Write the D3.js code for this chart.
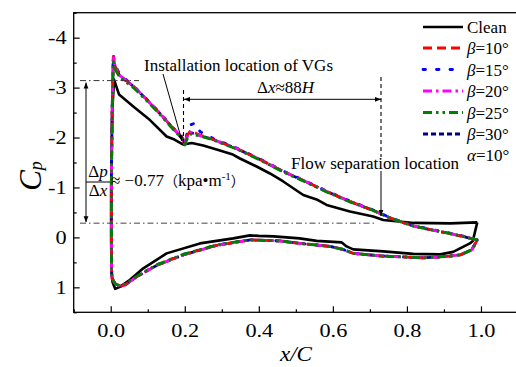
<!DOCTYPE html>
<html><head><meta charset="utf-8">
<script src="https://cdn.jsdelivr.net/npm/d3@7"></script>
<style>body{margin:0;background:#fff}svg{display:block}text{font-family:"Liberation Serif","Times New Roman",Tinos,Times,"DejaVu Serif",serif;fill:#000}</style>
</head><body><svg id="c" width="516" height="367"></svg>
<script>
// ---------- data ----------
const xTicks = [0, 0.2, 0.4, 0.6, 0.8, 1.0];
const xTickLabels = ["0.0", "0.2", "0.4", "0.6", "0.8", "1.0"];
const xMinor = [-0.1, 0.1, 0.3, 0.5, 0.7, 0.9, 1.1];
const yTicks = [-4, -3, -2, -1, 0, 1];
const yTickLabels = ["-4", "-3", "-2", "-1", "0", "1"];
const yMinor = [-4.5, -3.5, -2.5, -1.5, -0.5, 0.5, 1.5];

// Clean airfoil (closed loop: upper surface TE->LE, lower surface LE->TE)
const cleanX = [0.99, 0.917, 0.82, 0.736, 0.709, 0.646, 0.583, 0.556, 0.52, 0.466, 0.43, 0.394, 0.349, 0.33, 0.286, 0.25, 0.219, 0.196, 0.172, 0.151, 0.106, 0.061, 0.0225, 0.009,
  0.004, 0.001, 0.001, 0.002, 0.005, 0.012, 0.025, 0.052, 0.088, 0.151, 0.241, 0.331, 0.376, 0.40, 0.44, 0.51, 0.556, 0.624, 0.637, 0.655, 0.736, 0.817, 0.89, 0.925, 0.97, 0.978, 0.99];
const cleanCp = [-0.30, -0.28, -0.29, -0.35, -0.42, -0.52, -0.65, -0.76, -0.85, -1.12, -1.28, -1.42, -1.58, -1.66, -1.76, -1.84, -1.89, -1.86, -1.96, -2.02, -2.35, -2.62, -2.86, -3.16,
  -2.5, -1.0, 0.0, 0.6, 0.9, 1.03, 0.99, 0.85, 0.62, 0.32, 0.12, 0.02, -0.04, -0.03, -0.02, 0.02, 0.07, 0.10, 0.18, 0.24, 0.28, 0.33, 0.34, 0.29, 0.12, 0.07, -0.30];

// VG cases (shared chord positions)
const vgX = [0.99, 0.95, 0.908, 0.86, 0.817, 0.78, 0.745, 0.709, 0.646, 0.583, 0.52, 0.466, 0.403, 0.34, 0.277, 0.241, 0.228, 0.214, 0.205, 0.2, 0.192, 0.169, 0.133, 0.097, 0.061, 0.025, 0.012, 0.007,
  0.004, 0.002, 0.002, 0.002, 0.003, 0.012, 0.025, 0.039, 0.07, 0.124, 0.196, 0.286, 0.376, 0.457, 0.511, 0.592, 0.627, 0.655, 0.727, 0.845, 0.908, 0.944, 0.975, 0.99];
const cpB10 = [0.05, -0.02, -0.09, -0.16, -0.23, -0.32, -0.42, -0.54, -0.72, -0.92, -1.14, -1.32, -1.56, -1.78, -1.96, -2.05, -2.09, -2.12, -2.02, -1.86, -2.00, -2.18, -2.48, -2.76, -3.03, -3.24, -3.42, -3.62,
  -2.6, -1.2, 0.0, 0.6, 0.82, 0.93, 0.98, 0.95, 0.79, 0.56, 0.35, 0.16, 0.05, 0.07, 0.12, 0.18, 0.24, 0.32, 0.37, 0.41, 0.38, 0.35, 0.25, 0.05];
const cpB15 = [0.05, -0.03, -0.10, -0.17, -0.24, -0.33, -0.43, -0.55, -0.73, -0.93, -1.15, -1.33, -1.57, -1.79, -1.98, -2.12, -2.29, -2.25, -2.05, -1.88, -2.01, -2.19, -2.49, -2.77, -3.04, -3.26, -3.45, -3.66,
  -2.6, -1.2, 0.0, 0.6, 0.82, 0.93, 0.97, 0.94, 0.78, 0.55, 0.34, 0.15, 0.05, 0.07, 0.12, 0.18, 0.24, 0.32, 0.37, 0.41, 0.38, 0.35, 0.25, 0.05];
const cpB20 = [0.05, -0.02, -0.09, -0.16, -0.23, -0.32, -0.42, -0.54, -0.72, -0.92, -1.14, -1.32, -1.56, -1.78, -1.96, -2.04, -2.08, -2.10, -2.00, -1.85, -2.00, -2.18, -2.48, -2.76, -3.03, -3.24, -3.42, -3.63,
  -2.6, -1.2, 0.0, 0.6, 0.82, 0.93, 0.98, 0.95, 0.79, 0.56, 0.35, 0.16, 0.05, 0.07, 0.12, 0.18, 0.24, 0.32, 0.37, 0.41, 0.38, 0.35, 0.25, 0.05];
const cpB25 = [0.05, -0.02, -0.09, -0.16, -0.23, -0.32, -0.42, -0.54, -0.71, -0.91, -1.13, -1.31, -1.55, -1.77, -1.95, -2.03, -2.05, -2.07, -1.95, -1.85, -1.98, -2.16, -2.46, -2.74, -3.00, -3.20, -3.36, -3.52,
  -2.6, -1.2, 0.0, 0.6, 0.82, 0.93, 0.97, 0.94, 0.78, 0.55, 0.34, 0.15, 0.05, 0.07, 0.12, 0.18, 0.24, 0.32, 0.37, 0.41, 0.38, 0.35, 0.25, 0.05];
const cpB30 = [0.05, -0.02, -0.09, -0.16, -0.23, -0.32, -0.42, -0.54, -0.72, -0.92, -1.14, -1.32, -1.56, -1.78, -1.96, -2.04, -2.08, -2.10, -2.00, -1.86, -2.00, -2.18, -2.48, -2.76, -3.03, -3.23, -3.40, -3.58,
  -2.6, -1.2, 0.0, 0.6, 0.82, 0.93, 0.98, 0.95, 0.79, 0.56, 0.35, 0.16, 0.05, 0.07, 0.12, 0.18, 0.24, 0.32, 0.37, 0.41, 0.38, 0.35, 0.25, 0.05];
const betaLabels = ["10", "15", "20", "25", "30"];

// ---------- setup ----------
const FONT = '"Liberation Serif","Times New Roman",Tinos,Times,"DejaVu Serif",serif';
const svg = d3.select("#c");
const x = d3.scaleLinear().domain([-0.1, 1.1]).range([73.7, 518.0]);
const y = d3.scaleLinear().domain([-4.5, 1.5]).range([12.7, 312.3]);
const SX = 1.24; // horizontal stretch of the axis numerals

const seriesStyles = [
  {cp: cpB30, color: "#000080", dash: "5,3"},
  {cp: cpB15, color: "#0000ff", dash: "2.5,11"},
  {cp: cpB10, color: "#ff0000", dash: "9,5"},
  {cp: cpB20, color: "#ff00ff", dash: "9,4,2.5,4"},
  {cp: cpB25, color: "#008000", dash: "9,4,2.5,4,2.5,4"}
];
const legendOrder = [
  {label: betaLabels[0], color: "#ff0000", dash: "9,5"},
  {label: betaLabels[1], color: "#0000ff", dash: "2.5,11"},
  {label: betaLabels[2], color: "#ff00ff", dash: "9,4,2.5,4"},
  {label: betaLabels[3], color: "#008000", dash: "9,4,2.5,4,2.5,4"},
  {label: betaLabels[4], color: "#000080", dash: "5,3"}
];

// defs: arrow marker
const defs = svg.append("defs");
defs.append("marker").attr("id", "ah").attr("viewBox", "0 0 10 10").attr("refX", 10).attr("refY", 5)
  .attr("markerWidth", 7).attr("markerHeight", 6).attr("markerUnits", "userSpaceOnUse").attr("orient", "auto-start-reverse")
  .append("path").attr("d", "M0,1 L10,5 L0,9 Z").attr("fill", "#000");

// frame
svg.append("rect").attr("x", x(-0.1)).attr("y", y(-4.5)).attr("width", x(1.1) - x(-0.1)).attr("height", y(1.5) - y(-4.5))
  .attr("fill", "none").attr("stroke", "#000").attr("stroke-width", 1.3);

// axes
const xAxis = svg.append("g").attr("transform", `translate(0,${y(1.5)})`)
  .call(d3.axisBottom(x).tickValues(xTicks).tickSize(-6).tickSizeOuter(0).tickPadding(12).tickFormat((d, i) => xTickLabels[i]));
const xAxisMinor = svg.append("g").attr("transform", `translate(0,${y(1.5)})`)
  .call(d3.axisBottom(x).tickValues(xMinor).tickSize(-3).tickSizeOuter(0).tickFormat(""));
const yAxis = svg.append("g").attr("transform", `translate(${x(-0.1)},0)`)
  .call(d3.axisLeft(y).tickValues(yTicks).tickSize(-6).tickSizeOuter(0).tickPadding(7).tickFormat((d, i) => yTickLabels[i]));
const yAxisMinor = svg.append("g").attr("transform", `translate(${x(-0.1)},0)`)
  .call(d3.axisLeft(y).tickValues(yMinor).tickSize(-3).tickSizeOuter(0).tickFormat(""));
[xAxis, xAxisMinor, yAxis, yAxisMinor].forEach(g => {
  g.attr("font-family", null);
  g.select(".domain").remove();
  g.selectAll("line").attr("stroke", "#000").attr("stroke-width", 1.2);
  g.selectAll("text").style("font-family", FONT).attr("font-size", 18).attr("fill", "#000");
});
xAxis.selectAll("text").attr("transform", `scale(${SX},1)`);
yAxis.selectAll("text").attr("dy", "0.34em").attr("x", -7 / SX).attr("transform", `scale(${SX},1)`);

// axis titles
svg.append("text").attr("x", 296 / 1.1).attr("y", 361).attr("transform", "scale(1.1,1)").attr("text-anchor", "middle").attr("font-size", 21)
  .attr("font-style", "italic").text("x/C");
const yl = svg.append("text").attr("transform", "translate(41,176) rotate(-90)").attr("text-anchor", "middle").attr("font-size", 31);
yl.append("tspan").attr("font-style", "italic").text("C");
yl.append("tspan").attr("font-style", "italic").attr("font-size", 18).attr("dy", 1).text("p");

// curves
const line = d3.line().x(d => x(d[0])).y(d => y(d[1]));
svg.append("path").datum(cleanX.map((v, i) => [v, cleanCp[i]])).attr("d", line)
  .attr("fill", "none").attr("stroke", "#000").attr("stroke-width", 2.6).attr("stroke-linejoin", "round");
seriesStyles.forEach(s => {
  svg.append("path").datum(vgX.map((v, i) => [v, s.cp[i]])).attr("d", line)
    .attr("fill", "none").attr("stroke", s.color).attr("stroke-width", 2.8).attr("stroke-dasharray", s.dash)
    .attr("stroke-linecap", s.dash === "2.5,11" ? "round" : "butt").attr("stroke-linejoin", "round");
});

// annotations
const ann = svg.append("g").attr("stroke", "#000").attr("fill", "none");
ann.append("line").attr("x1", 80).attr("x2", 139).attr("y1", y(-3.14)).attr("y2", y(-3.14))
  .attr("stroke", "#333").attr("stroke-width", 1).attr("stroke-dasharray", "6,3,1.5,3");
ann.append("line").attr("x1", 80).attr("x2", 377).attr("y1", y(-0.285)).attr("y2", y(-0.285))
  .attr("stroke", "#444").attr("stroke-width", 1).attr("stroke-dasharray", "6,3,1.5,3");
ann.append("line").attr("x1", 86).attr("x2", 86).attr("y1", y(-3.14) + 2).attr("y2", y(-0.285) - 1)
  .attr("stroke-width", 1).attr("marker-start", "url(#ah)").attr("marker-end", "url(#ah)");
ann.append("line").attr("x1", 86).attr("x2", 110).attr("y1", 182).attr("y2", 182).attr("stroke-width", 1);
ann.append("line").attr("x1", 163).attr("y1", 74).attr("x2", 182).attr("y2", 141).attr("stroke-width", 1).attr("marker-end", "url(#ah)");
ann.append("line").attr("x1", 183.5).attr("x2", 183.5).attr("y1", 90).attr("y2", 145).attr("stroke-width", 1.1).attr("stroke-dasharray", "4,3");
ann.append("line").attr("x1", 184).attr("x2", 381).attr("y1", 99.3).attr("y2", 99.3).attr("stroke-width", 1)
  .attr("marker-start", "url(#ah)").attr("marker-end", "url(#ah)");
ann.append("line").attr("x1", 381).attr("x2", 381).attr("y1", 77).attr("y2", 157).attr("stroke-width", 1.1).attr("stroke-dasharray", "4,3");
ann.append("line").attr("x1", 381).attr("x2", 381).attr("y1", 171).attr("y2", 216).attr("stroke-width", 1).attr("marker-end", "url(#ah)");

// annotation texts
svg.append("text").attr("x", 144).attr("y", 70.5).attr("font-size", 17).text("Installation location of VGs");
const dx = svg.append("text").attr("x", 257).attr("y", 93).attr("font-size", 17);
dx.append("tspan").text("Δ"); dx.append("tspan").attr("font-style", "italic").text("x");
dx.append("tspan").text("≈88"); dx.append("tspan").attr("font-style", "italic").text("H");
svg.append("text").attr("x", 291).attr("y", 168.5).attr("font-size", 17).text("Flow separation location");
const fp = svg.append("text").attr("x", 98).attr("y", 177).attr("font-size", 17).attr("text-anchor", "middle");
fp.append("tspan").text("Δ"); fp.append("tspan").attr("font-style", "italic").text("p");
const fx = svg.append("text").attr("x", 98).attr("y", 196).attr("font-size", 17).attr("text-anchor", "middle");
fx.append("tspan").text("Δ"); fx.append("tspan").attr("font-style", "italic").text("x");
const fr = svg.append("text").attr("x", 111).attr("y", 186).attr("font-size", 17);
fr.append("tspan").text("≈ −0.77");
fr.append("tspan").attr("font-family", "Noto Sans CJK SC").attr("font-size", 14).text("（");
fr.append("tspan").text("kpa•m");
fr.append("tspan").attr("font-size", 11).attr("dy", -6).text("-1");
fr.append("tspan").attr("font-family", "Noto Sans CJK SC").attr("font-size", 14).attr("dy", 6).text("）");

// legend
const lg = svg.append("g");
const rowY = [27, 48, 69.5, 91, 112.5, 134, 155];
lg.append("line").attr("x1", 423).attr("x2", 463).attr("y1", rowY[0]).attr("y2", rowY[0]).attr("stroke", "#000").attr("stroke-width", 2.6);
lg.append("text").attr("x", 467).attr("y", rowY[0] + 6).attr("font-size", 17).text("Clean");
legendOrder.forEach((s, i) => {
  const yy = rowY[i + 1];
  lg.append("line").attr("x1", 423).attr("x2", 463).attr("y1", yy).attr("y2", yy).attr("stroke", s.color)
    .attr("stroke-width", 2.8).attr("stroke-dasharray", s.dash).attr("stroke-linecap", s.dash === "2.5,11" ? "round" : "butt");
  const t = lg.append("text").attr("x", 467).attr("y", yy + 6).attr("font-size", 17);
  t.append("tspan").attr("font-style", "italic").text("β");
  t.append("tspan").text("=" + s.label + "°");
});
const at = lg.append("text").attr("x", 467).attr("y", rowY[6] + 6).attr("font-size", 17);
at.append("tspan").attr("font-style", "italic").text("α");
at.append("tspan").text("=10°");
</script></body></html>
